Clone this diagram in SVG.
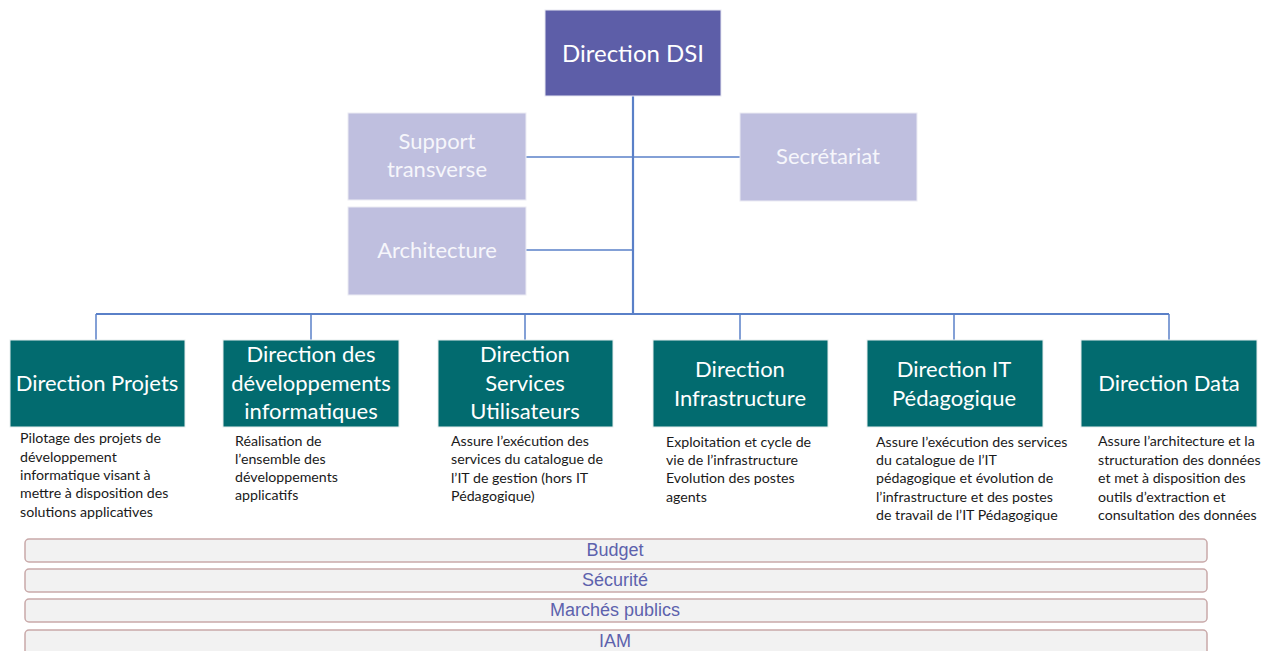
<svg xmlns="http://www.w3.org/2000/svg" width="1274" height="651" viewBox="0 0 1274 651">
<style>
.top{fill:#5d5ea8;stroke:#e8e8f2;stroke-width:1}
.sup{fill:#bfbfdf;stroke:#ececf4;stroke-width:1}
.dir{fill:#026b6f;stroke:#e6eeee;stroke-width:1}
.bar{fill:#f2f2f2;stroke:#c9a9a9;stroke-width:1.5}
.t{font-family:Lato,"Open Sans","Liberation Sans",sans-serif;font-size:22px;text-anchor:middle}
.tw{fill:#ffffff}
.tl{fill:#f6f6fb}
.d{font-family:Lato,"Open Sans","Liberation Sans",sans-serif;font-size:14.2px;fill:#1a1a1a}
.b{font-family:"Liberation Sans",Arial,sans-serif;font-size:18px;fill:#5d62ad;text-anchor:middle}
.c{fill:none;stroke:#5a80c8;stroke-width:1.5}
</style>
<rect width="1274" height="651" fill="#ffffff"/>
<g id="connectors">
<line class="c" x1="633" y1="96" x2="633" y2="314" style="stroke-width:2.2"/>
<line class="c" x1="526" y1="157" x2="740" y2="157"/>
<line class="c" x1="526" y1="250" x2="633" y2="250"/>
<line class="c" x1="96" y1="314" x2="1169" y2="314" style="stroke-width:2"/>
<line class="c" x1="96" y1="314" x2="96" y2="340"/>
<line class="c" x1="311" y1="314" x2="311" y2="340"/>
<line class="c" x1="525" y1="314" x2="525" y2="340"/>
<line class="c" x1="740" y1="314" x2="740" y2="340"/>
<line class="c" x1="954" y1="314" x2="954" y2="340"/>
<line class="c" x1="1169" y1="314" x2="1169" y2="340"/>
</g>
<g id="dsi">
<rect class="top" x="545" y="10" width="176" height="86"/>
<text class="t tw" x="633" y="62" style="font-size:24px">Direction DSI</text>
</g>
<g id="support">
<rect class="sup" x="348" y="113" width="178" height="87"/>
<text class="t tl" x="437" y="149">Support</text>
<text class="t tl" x="437" y="177">transverse</text>
</g>
<g id="secretariat">
<rect class="sup" x="740" y="113" width="177" height="88"/>
<text class="t tl" x="828" y="164">Secrétariat</text>
</g>
<g id="architecture">
<rect class="sup" x="348" y="207" width="178" height="88"/>
<text class="t tl" x="437" y="258">Architecture</text>
</g>
<g id="projets">
<rect class="dir" x="10" y="340" width="175" height="87"/>
<text class="t tw" x="97" y="391">Direction Projets</text>
<text class="d"><tspan x="20" y="443">Pilotage des projets de</tspan><tspan x="20" y="462">développement</tspan><tspan x="20" y="480">informatique visant à</tspan><tspan x="20" y="498">mettre à disposition des</tspan><tspan x="20" y="517">solutions applicatives</tspan></text>
</g>
<g id="developpements">
<rect class="dir" x="223" y="340" width="176" height="87"/>
<text class="t tw" x="311" y="362">Direction des</text>
<text class="t tw" x="311" y="391">développements</text>
<text class="t tw" x="311" y="419">informatiques</text>
<text class="d"><tspan x="235" y="446">Réalisation de</tspan><tspan x="235" y="464">l’ensemble des</tspan><tspan x="235" y="482">développements</tspan><tspan x="235" y="500">applicatifs</tspan></text>
</g>
<g id="services">
<rect class="dir" x="438" y="340" width="175" height="87"/>
<text class="t tw" x="525" y="362">Direction</text>
<text class="t tw" x="525" y="391">Services</text>
<text class="t tw" x="525" y="419">Utilisateurs</text>
<text class="d"><tspan x="451" y="446">Assure l’exécution des</tspan><tspan x="451" y="464">services du catalogue de</tspan><tspan x="451" y="483">l’IT de gestion (hors IT</tspan><tspan x="451" y="501">Pédagogique)</tspan></text>
</g>
<g id="infrastructure">
<rect class="dir" x="653" y="340" width="175" height="87"/>
<text class="t tw" x="740" y="377">Direction</text>
<text class="t tw" x="740" y="406">Infrastructure</text>
<text class="d"><tspan x="666" y="447">Exploitation et cycle de</tspan><tspan x="666" y="465">vie de l’infrastructure</tspan><tspan x="666" y="483">Evolution des postes</tspan><tspan x="666" y="502">agents</tspan></text>
</g>
<g id="pedagogique">
<rect class="dir" x="867" y="340" width="176" height="87"/>
<text class="t tw" x="954" y="377">Direction IT</text>
<text class="t tw" x="954" y="406">Pédagogique</text>
<text class="d"><tspan x="876" y="447">Assure l’exécution des services</tspan><tspan x="876" y="465">du catalogue de l’IT</tspan><tspan x="876" y="483">pédagogique et évolution de</tspan><tspan x="876" y="502">l’infrastructure et des postes</tspan><tspan x="876" y="520">de travail de l’IT Pédagogique</tspan></text>
</g>
<g id="data">
<rect class="dir" x="1081" y="340" width="176" height="87"/>
<text class="t tw" x="1169" y="391">Direction Data</text>
<text class="d"><tspan x="1098" y="446">Assure l’architecture et la</tspan><tspan x="1098" y="465">structuration des données</tspan><tspan x="1098" y="483">et met  à disposition des</tspan><tspan x="1098" y="502">outils d’extraction et</tspan><tspan x="1098" y="520">consultation des données</tspan></text>
</g>
<g id="budget">
<rect class="bar" x="25" y="539" width="1182" height="23" rx="4"/>
<text class="b" x="615" y="556">Budget</text>
</g>
<g id="securite">
<rect class="bar" x="25" y="569" width="1182" height="23" rx="4"/>
<text class="b" x="615" y="586">Sécurité</text>
</g>
<g id="marches">
<rect class="bar" x="25" y="599" width="1182" height="23" rx="4"/>
<text class="b" x="615" y="616">Marchés publics</text>
</g>
<g id="iam">
<rect class="bar" x="25" y="630" width="1182" height="26" rx="4"/>
<text class="b" x="615" y="647">IAM</text>
</g>
</svg>
